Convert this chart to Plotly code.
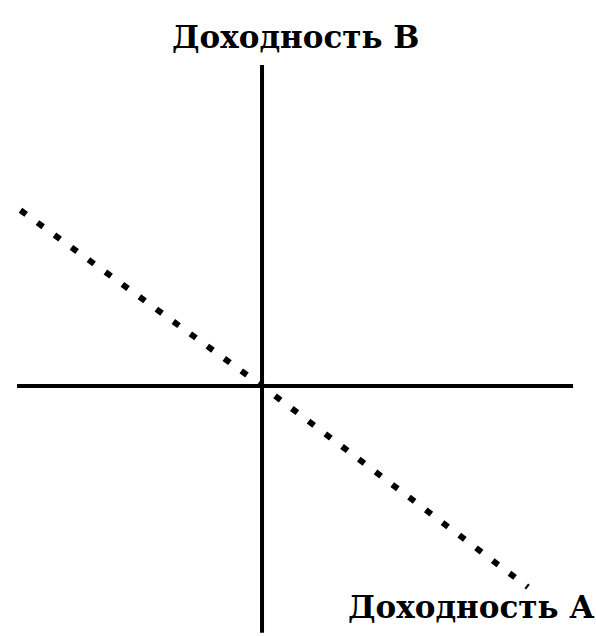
import plotly.graph_objects as go

# Data (arbitrary return units, origin at the axes crossing)
returns_a = [-9.9, 0.0, 10.9]
returns_b = [7.2, 0.0, -8.25]

x_axis_span = [-10.04, 12.75]
y_axis_span = [-10.12, 13.16]

label_b = "Доходность В"
label_a = "Доходность А"

fig = go.Figure()

# horizontal axis
fig.add_trace(go.Scatter(x=x_axis_span, y=[0, 0], mode="lines",
                         line=dict(color="black", width=4), hoverinfo="skip"))
# vertical axis
fig.add_trace(go.Scatter(x=[0, 0], y=y_axis_span, mode="lines",
                         line=dict(color="black", width=4), hoverinfo="skip"))
# dotted relation line
fig.add_trace(go.Scatter(x=returns_a, y=returns_b, mode="lines",
                         line=dict(color="black", width=6, dash="7px,14px"),
                         hoverinfo="skip"))

font = dict(family="DejaVu Serif", size=31, color="black", weight="bold")
fig.add_annotation(x=1.39, y=14.30, text=label_b, showarrow=False, font=font,
                   xanchor="center", yanchor="middle")
fig.add_annotation(x=8.57, y=-9.06, text=label_a, showarrow=False, font=font,
                   xanchor="center", yanchor="middle")

fig.update_layout(
    width=596, height=636,
    margin=dict(l=0, r=0, t=0, b=0),
    paper_bgcolor="white", plot_bgcolor="white",
    showlegend=False,
    xaxis=dict(range=[-10.74, 13.69], visible=False, fixedrange=True),
    yaxis=dict(range=[-10.25, 15.82], visible=False, fixedrange=True),
)

fig.write_html("out.html", config={"displayModeBar": False},
               post_script="document.body.style.margin='0';document.body.style.overflow='hidden';")
